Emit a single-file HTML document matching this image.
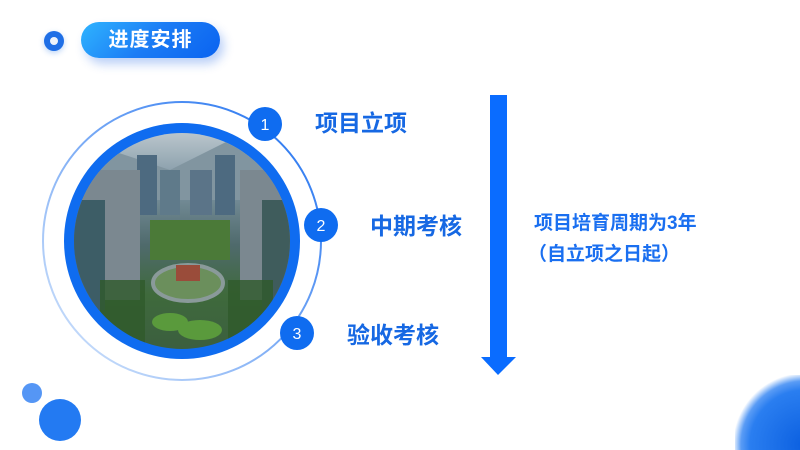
<!DOCTYPE html>
<html style="overflow:hidden;width:800px;height:450px"><head><meta charset="utf-8"><style>
body{margin:0;width:800px;height:450px;overflow:hidden;background:#fff;position:relative;font-family:"Liberation Sans","Noto Sans CJK SC",sans-serif}
.a{position:absolute}
.lbl{position:absolute;color:#1668e3;font-weight:bold;font-size:23px;line-height:1;white-space:nowrap}
svg{overflow:hidden;display:block}
</style></head><body>
<div class="a" style="left:44px;top:31px;width:20px;height:20px;border-radius:50%;background:#1f6fe6;box-shadow:0 2px 6px rgba(31,111,230,.3)"></div>
<div class="a" style="left:50px;top:37px;width:8px;height:8px;border-radius:50%;background:#eef3fb"></div>
<div class="a" style="left:81px;top:22px;width:139px;height:36px;border-radius:18px;background:linear-gradient(135deg,#2fb4ff,#1c7cf5 50%,#0a63f0);box-shadow:4px 6px 10px rgba(30,100,230,.3);color:#fff;font-weight:bold;font-size:20px;line-height:36px;text-align:center;letter-spacing:1px">进度安排</div>

<svg class="a" style="left:0;top:0" width="800" height="450" viewBox="0 0 800 450">
<defs>
<linearGradient id="ring" x1="0" y1="1" x2="1" y2="0"><stop offset="0" stop-color="#dbe9fb"/><stop offset="1" stop-color="#1b6ef0"/></linearGradient>
<clipPath id="c"><circle cx="182" cy="241" r="108"/></clipPath>
<linearGradient id="sky" x1="0" y1="0" x2="0" y2="1"><stop offset="0" stop-color="#c9d2d6"/><stop offset=".25" stop-color="#7f96a4"/><stop offset=".5" stop-color="#4f6a6c"/><stop offset=".7" stop-color="#3f6a3c"/><stop offset="1" stop-color="#3a5a40"/></linearGradient>
</defs>
<circle cx="182" cy="241" r="139" fill="none" stroke="url(#ring)" stroke-width="2"/>
<circle cx="182" cy="241" r="118" fill="#0f6cf0"/>
<g clip-path="url(#c)">
<rect x="60" y="120" width="250" height="250" fill="url(#sky)"/>
<polygon points="60,190 110,150 170,170 230,140 310,170 310,200 60,200" fill="#8195a0"/>
<rect x="137" y="155" width="20" height="60" fill="#4d6a80"/>
<rect x="215" y="155" width="20" height="60" fill="#4d6a80"/>
<rect x="190" y="170" width="22" height="45" fill="#5b7488"/>
<rect x="160" y="170" width="20" height="45" fill="#5f7a8a"/>
<rect x="75" y="170" width="65" height="130" fill="#7b8890"/>
<rect x="65" y="200" width="40" height="110" fill="#3d5d66"/>
<rect x="240" y="170" width="60" height="130" fill="#7b8890"/>
<rect x="262" y="200" width="40" height="110" fill="#3f5c5c"/>
<rect x="150" y="220" width="80" height="40" fill="#4b7a38"/>
<ellipse cx="188" cy="283" rx="35" ry="18" fill="#6b8f5c" stroke="#8a9a9a" stroke-width="4"/>
<rect x="176" y="265" width="24" height="16" fill="#9a4c3a"/>
<ellipse cx="170" cy="322" rx="18" ry="9" fill="#5a9a3c"/>
<ellipse cx="200" cy="330" rx="22" ry="10" fill="#5a9a3c"/>
<rect x="100" y="280" width="45" height="80" fill="#2f5a2a" opacity=".8"/>
<rect x="228" y="280" width="45" height="80" fill="#2f5a2a" opacity=".8"/>
</g>
<g font-family="Liberation Sans,sans-serif" font-size="16" fill="#fff" text-anchor="middle">
<circle cx="265" cy="124" r="17" fill="#0f6cf0"/><text x="265" y="130">1</text>
<circle cx="321" cy="225" r="17" fill="#0f6cf0"/><text x="321" y="231">2</text>
<circle cx="297" cy="333" r="17" fill="#0f6cf0"/><text x="297" y="339">3</text>
</g>
<rect x="490" y="95" width="17" height="263" fill="#0a6cff"/>
<polygon points="481,357 516,357 498,375" fill="#0a6cff"/>
<circle cx="32" cy="393" r="10" fill="#5596f5"/>
<circle cx="60" cy="420" r="21" fill="#237af2"/>
</svg>
<div class="a" style="left:735px;top:375px;width:65px;height:75px;background:radial-gradient(circle 72px at 70px 70px,#0b5fe0 0,#2a7ef0 55px,#5a9cf5 64px,rgba(255,255,255,0) 72px)"></div>
<div class="lbl" style="left:315px;top:112px">项目立项</div>
<div class="lbl" style="left:370px;top:215px">中期考核</div>
<div class="lbl" style="left:347px;top:324px">验收考核</div>
<div class="lbl" style="left:534px;top:214px;font-size:19px;color:#1a6ff0">项目培育周期为3年</div>
<div class="lbl" style="left:528px;top:245px;font-size:19px;color:#1a6ff0">（自立项之日起）</div>
</body></html>
